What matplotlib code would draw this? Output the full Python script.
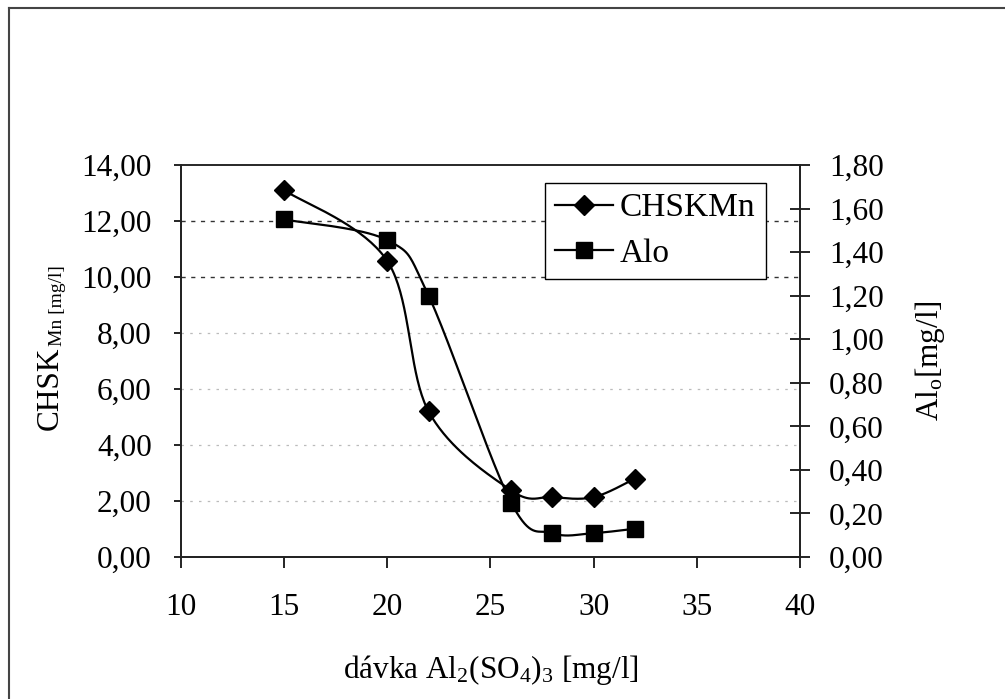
import matplotlib
matplotlib.use('Agg')
import matplotlib.pyplot as plt
import numpy as np
from matplotlib.ticker import FuncFormatter, MultipleLocator
from matplotlib.lines import Line2D

plt.rcParams['font.family'] = ['Liberation Serif', 'DejaVu Serif']
plt.rcParams['mathtext.fontset'] = 'custom'
plt.rcParams['mathtext.rm'] = 'Liberation Serif'
plt.rcParams['mathtext.it'] = 'Liberation Serif:italic'

# data
davka = [15, 20, 22, 26, 28, 30, 32]
chsk = [13.10, 10.57, 5.20, 2.38, 2.14, 2.14, 2.80]
alo = [1.55, 1.455, 1.20, 0.25, 0.11, 0.11, 0.13]


def smooth(x, y, n=40):
    # Excel-like smoothed line (cubic Bezier, Catmull-Rom control points)
    x = np.asarray(x, float)
    y = np.asarray(y, float)
    px = np.concatenate([[x[0]], x, [x[-1]]])
    py = np.concatenate([[y[0]], y, [y[-1]]])
    t = np.linspace(0, 1, n)
    xs, ys = [], []
    for i in range(len(x) - 1):
        p0 = np.array([px[i + 1], py[i + 1]])
        p3 = np.array([px[i + 2], py[i + 2]])
        c1 = p0 + (np.array([px[i + 2], py[i + 2]]) - np.array([px[i], py[i]])) / 6
        c2 = p3 - (np.array([px[i + 3], py[i + 3]]) - np.array([px[i + 1], py[i + 1]])) / 6
        b = ((1 - t) ** 3)[:, None] * p0 + (3 * (1 - t) ** 2 * t)[:, None] * c1 \
            + (3 * (1 - t) * t ** 2)[:, None] * c2 + (t ** 3)[:, None] * p3
        xs.extend(b[:, 0])
        ys.extend(b[:, 1])
    return xs, ys


fmt = FuncFormatter(lambda v, p: f'{v:.2f}'.replace('.', ','))

fig = plt.figure(figsize=(10.05, 6.99), dpi=100)
ax = fig.add_axes([0.1801, 0.2031, 0.6159, 0.5608])
ax2 = ax.twinx()

sx, sy = smooth(davka, chsk)
ax.plot(sx, sy, color='black', lw=1.6)
ax.plot(davka, chsk, ls='none', marker='D', ms=10, color='black')

sx2, sy2 = smooth(davka, alo)
ax2.plot(sx2, sy2, color='black', lw=1.6)
ax2.plot(davka, alo, ls='none', marker='s', ms=11, color='black')

ax.set_xlim(10, 40)
ax.set_ylim(0, 14)
ax2.set_ylim(0, 1.8)
ax.xaxis.set_major_locator(MultipleLocator(5))
ax.yaxis.set_major_locator(MultipleLocator(2))
ax2.yaxis.set_major_locator(MultipleLocator(0.2))
ax.yaxis.set_major_formatter(fmt)
ax2.yaxis.set_major_formatter(fmt)

ax.tick_params(axis='y', direction='out', length=5, width=1.2, labelsize=22.5, pad=16)
ax.tick_params(axis='x', direction='out', length=8, width=1.2, labelsize=22.5, pad=18)
ax2.tick_params(axis='y', direction='inout', length=14, width=1.2, labelsize=22.5, pad=14)

ax.yaxis.grid(True)
gl = ax.get_ygridlines()
for line, val in zip(gl, ax.get_yticks()):
    if val in (10, 12):
        line.set_color('#333333')
        line.set_linestyle((0, (3, 4)))
        line.set_linewidth(1.0)
    elif 0 < val < 14:
        line.set_color('#bbbbbb')
        line.set_linestyle((0, (2, 5)))
        line.set_linewidth(0.9)
    else:
        line.set_visible(False)

for a in (ax, ax2):
    for s in a.spines.values():
        s.set_linewidth(1.3)
        s.set_color('#222222')
ax.spines['top'].set_color('#888888')

ax.set_xlabel('dávka Al$_2$(SO$_4$)$_3$ [mg/l]', fontsize=22.5, labelpad=22)

# left label: "CHSK" with a small "Mn [mg/l]" after it
ax.text(-0.199, 0.538, 'CHSK', transform=ax.transAxes, rotation=90,
        rotation_mode='anchor', ha='right', va='baseline', fontsize=22.5)
ax.text(-0.193, 0.538, 'Mn [mg/l]', transform=ax.transAxes, rotation=90,
        rotation_mode='anchor', ha='left', va='baseline', fontsize=14)

ax2.set_ylabel(r'Al$_{\mathrm{o}}$[mg/l]', fontsize=22.5)
ax2.yaxis.set_label_coords(1.183, 0.5)

handles = [Line2D([], [], color='black', lw=1.6, marker='D', ms=10),
           Line2D([], [], color='black', lw=1.6, marker='s', ms=11)]
leg = ax2.legend(handles, ['CHSKMn', 'Alo'], loc='upper left',
                 bbox_to_anchor=(0.588, 0.955), fontsize=24, frameon=True,
                 fancybox=False, edgecolor='black', framealpha=1,
                 handlelength=1.75, handletextpad=0.2, borderpad=0.3,
                 labelspacing=0.45, borderaxespad=0)
leg.get_frame().set_linewidth(1.0)

# scan frame: left and top edges
fig.add_artist(Line2D([0.0085, 0.0085], [0, 0.989], color='#444444', lw=1.5))
fig.add_artist(Line2D([0.0085, 1.0], [0.989, 0.989], color='#444444', lw=1.5))

fig.savefig('out.png', dpi=100)
